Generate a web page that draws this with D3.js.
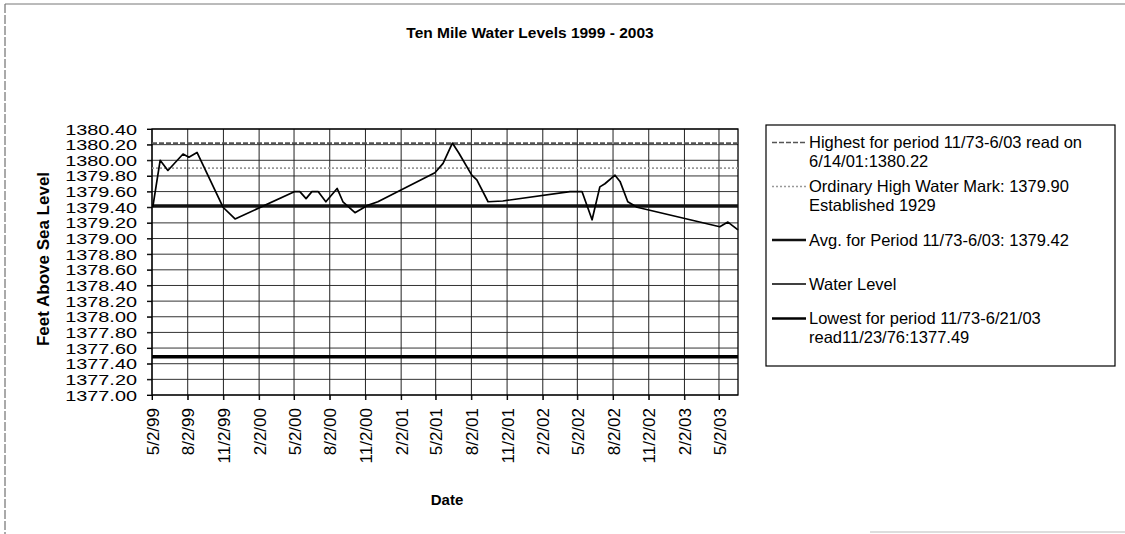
<!DOCTYPE html>
<html>
<head>
<meta charset="utf-8">
<script src="https://cdn.jsdelivr.net/npm/d3@7"></script>
<style>
  body { margin: 0; background: #fff; }
  text { font-family: "Liberation Sans", Arial, sans-serif; fill: #000; }
</style>
</head>
<body>
<div id="chart"></div>
<script>
// water level readings
const readDates = ["5/4/99", "5/23/99", "6/12/99", "7/21/99", "8/5/99", "8/26/99", "11/1/99", "12/2/99",
    "5/4/00", "5/17/00", "6/2/00", "6/17/00", "7/3/00", "7/23/00", "8/21/00", "9/5/00", "10/6/00", "11/6/00", "12/4/00",
    "4/30/01", "5/21/01", "6/14/01", "7/1/01", "8/3/01", "8/16/01", "9/14/01", "10/22/01",
    "4/13/02", "5/14/02", "6/9/02", "6/29/02", "7/12/02", "8/7/02", "8/20/02", "9/9/02", "10/3/02",
    "5/4/03", "5/25/03", "6/20/03"];
const levels = [1379.40, 1380.00, 1379.87, 1380.08, 1380.04, 1380.10, 1379.40, 1379.25,
    1379.60, 1379.60, 1379.51, 1379.60, 1379.60, 1379.47, 1379.64, 1379.47, 1379.33, 1379.42, 1379.47,
    1379.84, 1379.96, 1380.22, 1380.09, 1379.81, 1379.75, 1379.47, 1379.48,
    1379.60, 1379.60, 1379.24, 1379.66, 1379.70, 1379.81, 1379.73, 1379.47, 1379.40,
    1379.15, 1379.21, 1379.11];

const xDomain = ["5/2/99", "6/20/03"];
const xTicks = ["5/2/99", "8/2/99", "11/2/99", "2/2/00", "5/2/00", "8/2/00", "11/2/00", "2/2/01",
    "5/2/01", "8/2/01", "11/2/01", "2/2/02", "5/2/02", "8/2/02", "11/2/02", "2/2/03", "5/2/03"];
const yTicks = [1377.00, 1377.20, 1377.40, 1377.60, 1377.80, 1378.00, 1378.20, 1378.40, 1378.60,
    1378.80, 1379.00, 1379.20, 1379.40, 1379.60, 1379.80, 1380.00, 1380.20, 1380.40];

// horizontal reference series
const refKeys = ["highest", "ohwm", "avg", "lowest"];
const refValues = [1380.22, 1379.90, 1379.42, 1377.49];

const legendKeys = ["highest", "ohwm", "avg", "water", "lowest"];
const legendLabels = [
    ["Highest  for period 11/73-6/03 read on", "6/14/01:1380.22"],
    ["Ordinary High Water Mark: 1379.90", "Established 1929"],
    ["Avg. for Period 11/73-6/03: 1379.42"],
    ["Water Level"],
    ["Lowest for period 11/73-6/21/03", "read11/23/76:1377.49"]
];

const styles = {
    highest: { stroke: "#555", width: 1.6, dash: "5,2" },
    ohwm:    { stroke: "#999", width: 1.6, dash: "2,2" },
    avg:     { stroke: "#111", width: 3, dash: null },
    water:   { stroke: "#000", width: 1.7, dash: null },
    lowest:  { stroke: "#000", width: 3.5, dash: null }
};

const W = 1125, H = 534;
const margin = { top: 129, right: 387, bottom: 139, left: 152 };
const width = W - margin.left - margin.right;
const height = H - margin.top - margin.bottom;

const parse = d3.timeParse("%m/%d/%y");

const root = d3.select("#chart").append("svg")
    .attr("width", W)
    .attr("height", H);

// outer chart frame (scanned, partly faded)
root.append("line").attr("x1", 5).attr("x2", 5).attr("y1", 4).attr("y2", 534)
    .attr("stroke", "#555").attr("stroke-dasharray", "9,2");
root.append("line").attr("x1", 5).attr("x2", 1125).attr("y1", 4).attr("y2", 4)
    .attr("stroke", "#777");
root.append("line").attr("x1", 870).attr("x2", 1125).attr("y1", 532).attr("y2", 532)
    .attr("stroke", "#bbb");

root.append("text")
    .attr("x", 530).attr("y", 38)
    .attr("text-anchor", "middle")
    .style("font-size", "15.5px").style("font-weight", "bold")
    .text("Ten Mile Water Levels 1999 - 2003");

const svg = root.append("g")
    .attr("transform", `translate(${margin.left},${margin.top})`);

const x = d3.scaleTime()
    .domain(xDomain.map(parse))
    .range([0, width]);

const y = d3.scaleLinear()
    .domain([1377.00, 1380.40])
    .range([height, 0]);

// gridlines
svg.append("g")
    .selectAll("line")
    .data(yTicks)
    .enter()
    .append("line")
    .attr("x1", -5).attr("x2", width)
    .attr("y1", d => y(d)).attr("y2", d => y(d))
    .attr("stroke", "#333").attr("stroke-width", 1);

svg.append("g")
    .selectAll("line")
    .data(xTicks)
    .enter()
    .append("line")
    .attr("x1", d => x(parse(d))).attr("x2", d => x(parse(d)))
    .attr("y1", 0).attr("y2", height + 5)
    .attr("stroke", "#222").attr("stroke-width", 1);

svg.append("rect")
    .attr("width", width).attr("height", height)
    .attr("fill", "none").attr("stroke", "#000").attr("stroke-width", 1.3);

// axes
const yAxis = svg.append("g")
    .call(d3.axisLeft(y).tickValues(yTicks).tickFormat(d3.format(".2f")).tickSize(5).tickPadding(10));
yAxis.select(".domain").remove();
// scanned labels are squat and wide: smaller font, stretched sideways
yAxis.selectAll("text")
    .style("font-size", "14px")
    .attr("dy", "0.36em")
    .attr("lengthAdjust", "spacingAndGlyphs")
    .attr("textLength", function () { return this.getComputedTextLength() * 1.42; });

const xAxis = svg.append("g")
    .attr("transform", `translate(0,${height})`)
    .call(d3.axisBottom(x).tickValues(xTicks.map(parse)).tickFormat(d3.timeFormat("%-m/%-d/%y")).tickSize(5));
xAxis.select(".domain").remove();
xAxis.selectAll("text")
    .style("font-size", "17px")
    .attr("text-anchor", "end")
    .attr("transform", "rotate(-90)")
    .attr("x", -13)
    .attr("y", 0)
    .attr("dy", "0.36em");

// axis titles
svg.append("text")
    .attr("text-anchor", "middle")
    .attr("transform", "rotate(-90)")
    .attr("x", -130)
    .attr("y", -103)
    .style("font-size", "17px").style("font-weight", "bold")
    .text("Feet Above Sea Level");

svg.append("text")
    .attr("text-anchor", "middle")
    .attr("x", 295)
    .attr("y", 376)
    .style("font-size", "15px").style("font-weight", "bold")
    .text("Date");

// reference lines
svg.append("g")
    .selectAll("line")
    .data(refValues)
    .enter()
    .append("line")
    .attr("x1", 0).attr("x2", width)
    .attr("y1", d => y(d)).attr("y2", d => y(d))
    .attr("stroke", (d, i) => styles[refKeys[i]].stroke)
    .attr("stroke-width", (d, i) => styles[refKeys[i]].width)
    .attr("stroke-dasharray", (d, i) => styles[refKeys[i]].dash);

// water level series
const series = readDates.map((d, i) => ({ date: parse(d), value: levels[i] }));
const line = d3.line()
    .x(d => x(d.date))
    .y(d => y(d.value));

svg.append("path")
    .datum(series)
    .attr("fill", "none")
    .attr("stroke", styles.water.stroke)
    .attr("stroke-width", styles.water.width)
    .attr("stroke-linejoin", "round")
    .attr("d", line);

// legend
const legend = root.append("g")
    .attr("transform", "translate(766,125)");

legend.append("rect")
    .attr("width", 349).attr("height", 241)
    .attr("fill", "#fff").attr("stroke", "#000").attr("stroke-width", 1.2);

const slot = 44;
legendKeys.forEach((key, i) => {
    const lines = legendLabels[i];
    const cy = 27 + i * slot;
    const firstY = cy - (lines.length - 1) * 9.5;
    const st = styles[key];
    legend.append("line")
        .attr("x1", 6).attr("x2", 40)
        .attr("y1", firstY).attr("y2", firstY)
        .attr("stroke", st.stroke)
        .attr("stroke-width", Math.min(st.width, 2.5))
        .attr("stroke-dasharray", st.dash);
    lines.forEach((t, j) => {
        legend.append("text")
            .attr("x", 43)
            .attr("y", firstY + j * 19)
            .attr("dy", "0.36em")
            .style("font-size", "16.5px")
            .text(t);
    });
});
</script>
</body>
</html>
